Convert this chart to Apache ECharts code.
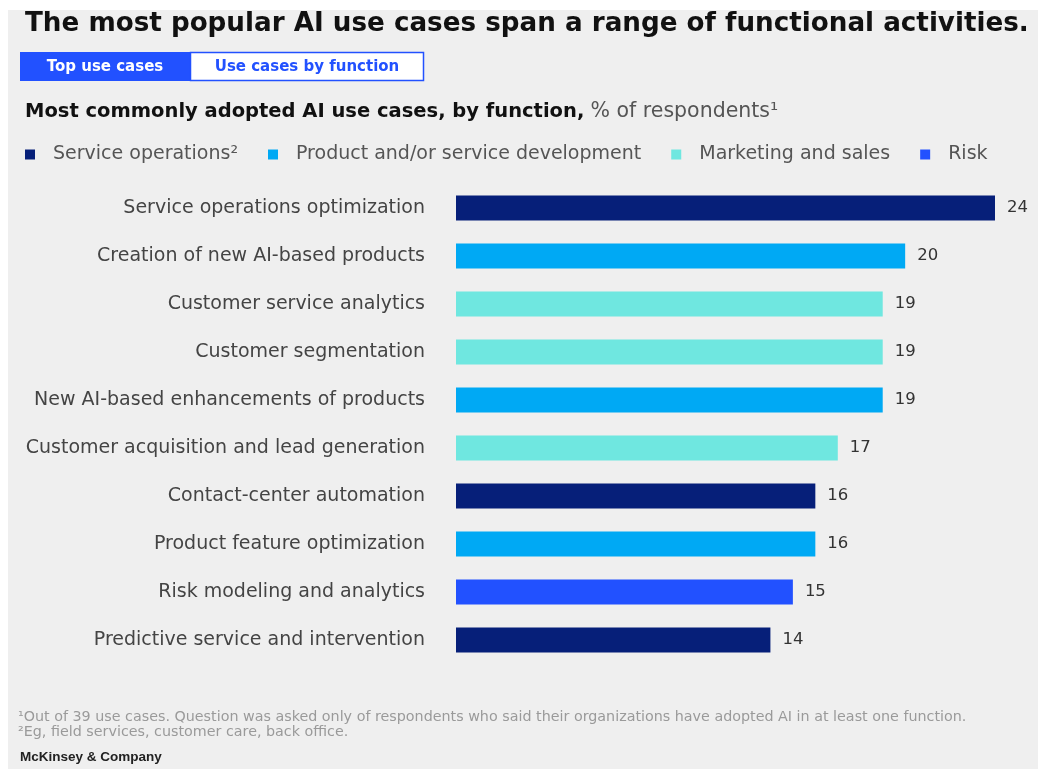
<!DOCTYPE html>
<html>
<head>
<meta charset="utf-8">
<script src="https://cdn.jsdelivr.net/npm/echarts@6/dist/echarts.min.js"></script>
<style>
  html, body { margin: 0; padding: 0; background: #ffffff; }
  #chart { width: 1044px; height: 769px; }
</style>
</head>
<body>
<div id="chart"></div>
<script>
// Use cases, top to bottom
const categories = [
  'Service operations optimization',
  'Creation of new AI-based products',
  'Customer service analytics',
  'Customer segmentation',
  'New AI-based enhancements of products',
  'Customer acquisition and lead generation',
  'Contact-center automation',
  'Product feature optimization',
  'Risk modeling and analytics',
  'Predictive service and intervention'
];

// % of respondents, one value per use case
const values = [24, 20, 19, 19, 19, 17, 16, 16, 15, 14];

// Function each use case belongs to
const functions = [
  'Service operations²',
  'Product and/or service development',
  'Marketing and sales',
  'Risk'
];
const useCaseFunction = [0, 1, 2, 2, 1, 2, 0, 1, 3, 0];

const functionColors = ['#061f79', '#00a9f4', '#6fe7e0', '#2251ff'];

const series = functions.map((name, f) => ({
  name: name,
  type: 'bar',
  stack: 'uses',
  barWidth: 25,
  itemStyle: { color: functionColors[f] },
  label: {
    show: true,
    position: 'right',
    distance: 12,
    color: '#333',
    fontSize: 16.5,
    fontFamily: 'DejaVu Sans'
  },
  data: values.map((v, i) => (useCaseFunction[i] === f ? v : null))
}));

const chart = echarts.init(document.getElementById('chart'));
chart.setOption({
  backgroundColor: '#ffffff',
  animation: false,
  textStyle: { fontFamily: 'DejaVu Sans' },
  title: [
    {
      text: 'The most popular AI use cases span a range of functional activities.',
      left: 20, top: 6,
      textStyle: { fontSize: 26.2, fontWeight: 'bold', color: '#111', fontFamily: 'DejaVu Sans' }
    },
    {
      text: '{b|Most commonly adopted AI use cases, by function,} {n|% of respondents¹}',
      left: 20, top: 96,
      textStyle: {
        rich: {
          b: { fontSize: 19.5, fontWeight: 'bold', color: '#111', fontFamily: 'DejaVu Sans' },
          n: { fontSize: 20.5, fontWeight: 'normal', color: '#555', fontFamily: 'DejaVu Sans' }
        }
      }
    }
  ],
  legend: {
    data: functions,
    left: 20, top: 140,
    icon: 'rect',
    itemWidth: 10, itemHeight: 10,
    itemGap: 30,
    textStyle: { fontSize: 19, color: '#555', fontFamily: 'DejaVu Sans', padding: [0, 0, 0, 13] },
    selectedMode: false
  },
  grid: { left: 456, right: 49, top: 184, bottom: 105, containLabel: false },
  xAxis: {
    type: 'value',
    min: 0, max: 24,
    show: false
  },
  yAxis: {
    type: 'category',
    inverse: true,
    data: categories,
    axisLine: { show: false },
    axisTick: { show: false },
    axisLabel: { margin: 31, fontSize: 19, color: '#444', fontFamily: 'DejaVu Sans' }
  },
  graphic: [
    { type: 'rect', z: -10, shape: { x: 8, y: 10, width: 1030, height: 759 }, style: { fill: '#efefef' } },
    { type: 'rect', shape: { x: 20, y: 52, width: 170, height: 29 }, style: { fill: '#2251ff' } },
    { type: 'rect', shape: { x: 190.5, y: 52.5, width: 233, height: 28 }, style: { fill: '#ffffff', stroke: '#2251ff', lineWidth: 1.5 } },
    { type: 'text', x: 105, y: 67, style: { text: 'Top use cases', fill: '#ffffff', fontSize: 15, fontWeight: 'bold', fontFamily: 'DejaVu Sans', align: 'center', verticalAlign: 'middle' } },
    { type: 'text', x: 307, y: 67, style: { text: 'Use cases by function', fill: '#2251ff', fontSize: 15, fontWeight: 'bold', fontFamily: 'DejaVu Sans', align: 'center', verticalAlign: 'middle' } },
    { type: 'text', x: 18, y: 710, style: { text: '¹Out of 39 use cases. Question was asked only of respondents who said their organizations have adopted AI in at least one function.', fill: '#9a9a9a', fontSize: 14.3, fontFamily: 'DejaVu Sans' } },
    { type: 'text', x: 18, y: 725, style: { text: '²Eg, field services, customer care, back office.', fill: '#9a9a9a', fontSize: 14.3, fontFamily: 'DejaVu Sans' } },
    { type: 'text', x: 20, y: 750, style: { text: 'McKinsey & Company', fill: '#222', fontSize: 13.5, fontWeight: 'bold', fontFamily: 'Liberation Sans' } }
  ],
  series: series
});
</script>
</body>
</html>
